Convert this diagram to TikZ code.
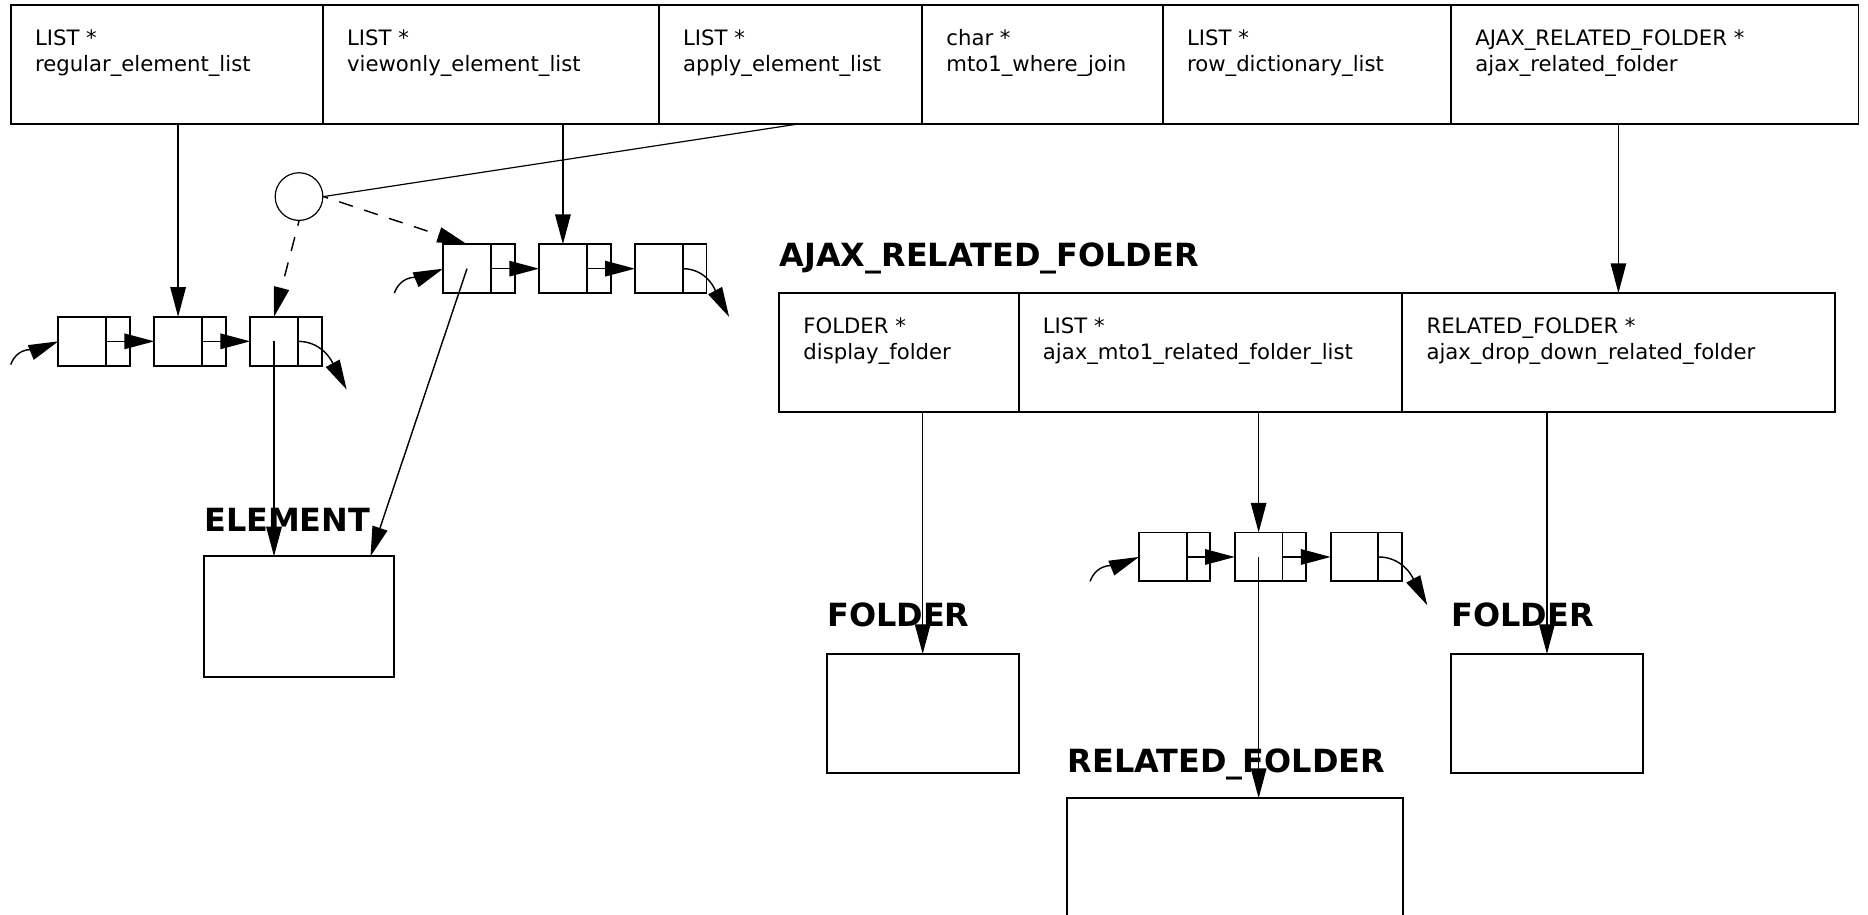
\documentclass[tikz,border=0pt]{standalone}
\usepackage{fontspec}
\setmainfont{DejaVu Sans}
\usepackage{tikz}
\usetikzlibrary{
  positioning, arrows.meta, calc
}
\newcommand{\fieldfont}{\fontsize{8.9}{10.9}\selectfont}
\newcommand{\typefont}{\fontsize{13.4}{16}\selectfont\bfseries}

\begin{document}
\begin{tikzpicture}[
  x=0.5pt, y=-0.5pt,
  field/.style={
    rectangle, draw, line width=0.8pt, minimum width=#1,
    minimum height=50pt, inner sep=0pt, outer sep=0pt
  },
  fieldtext/.style={
    anchor=north west, align=left, font=\fieldfont,
    inner sep=0pt, xshift=10pt, yshift=-10.1pt
  },
  record/.style={
    rectangle, draw, line width=0.8pt, minimum width=#1,
    minimum height=50pt, inner sep=0pt, outer sep=0pt, anchor=north west
  },
  typename/.style={font=\typefont, inner sep=0pt, anchor=base west},
  datapart/.style={
    rectangle, draw, line width=0.8pt, minimum width=20pt,
    minimum height=20.5pt, inner sep=0pt, outer sep=0pt
  },
  nextpart/.style={datapart, minimum width=10pt},
  ptr/.style={line width=0.6pt, -{Triangle[length=12.5pt, width=6.5pt]}},
  dashptr/.style={ptr, dash pattern=on 6pt off 5pt, dash phase=4pt},
  joinmark/.style={circle, draw, line width=0.5pt, minimum size=20pt, inner sep=0pt},
]
\useasboundingbox (0,0) rectangle (1568,768);

% top record
\node[field=131pt, anchor=north west,
  label={[fieldtext]north west:{LIST *\\regular\_element\_list}}] (regular) at (9,4) {};
\node[field=141pt, right=0pt of regular,
  label={[fieldtext]north west:{LIST *\\viewonly\_element\_list}}] (viewonly) {};
\node[field=110.5pt, right=0pt of viewonly,
  label={[fieldtext]north west:{LIST *\\apply\_element\_list}}] (apply) {};
\node[field=101pt, right=0pt of apply,
  label={[fieldtext]north west:{char *\\mto1\_where\_join}}] (wherejoin) {};
\node[field=121pt, right=0pt of wherejoin,
  label={[fieldtext]north west:{LIST *\\row\_dictionary\_list}}] (rowdict) {};
\node[field=171pt, right=0pt of rowdict,
  label={[fieldtext]north west:{AJAX\_RELATED\_FOLDER *\\ajax\_related\_folder}}] (ajaxrel) {};

% AJAX_RELATED_FOLDER record
\node[field=100.5pt, anchor=north west,
  label={[fieldtext]north west:{FOLDER *\\display\_folder}}] (display) at (654,246) {};
\node[field=161pt, right=0pt of display,
  label={[fieldtext]north west:{LIST *\\ajax\_mto1\_related\_folder\_list}}] (mtolist) {};
\node[field=181.5pt, right=0pt of mtolist,
  label={[fieldtext]north west:{RELATED\_FOLDER *\\ajax\_drop\_down\_related\_folder}}] (dropdown) {};
\node[typename] (ajaxtitle) at ([yshift=11pt]display.north west) {AJAX\_RELATED\_FOLDER};

% regular element list
\node[datapart, anchor=north west] (ra1) at (49,266) {};
\node[nextpart, right=0pt of ra1] (rn1) {};
\node[datapart, right=10.25pt of rn1] (ra2) {};
\node[nextpart, right=0pt of ra2] (rn2) {};
\node[datapart, right=10.25pt of rn2] (ra3) {};
\node[nextpart, right=0pt of ra3] (rn3) {};
\coordinate (rin) at (9,306);
\coordinate (rout) at (291,327);

% viewonly element list
\node[datapart, anchor=north west] (va1) at (372,205) {};
\node[nextpart, right=0pt of va1] (vn1) {};
\node[datapart, right=10.25pt of vn1] (va2) {};
\node[nextpart, right=0pt of va2] (vn2) {};
\node[datapart, right=10.25pt of vn2] (va3) {};
\node[nextpart, right=0pt of va3] (vn3) {};
\coordinate (vin) at (331,246);
\coordinate (vout) at (612,266);

% related folder list
\node[datapart, anchor=north west] (ma1) at (956,447) {};
\node[nextpart, right=0pt of ma1] (mn1) {};
\node[datapart, right=10.25pt of mn1] (ma2) {};
\node[nextpart, right=0pt of ma2] (mn2) {};
\node[datapart, right=10.25pt of mn2] (ma3) {};
\node[nextpart, right=0pt of ma3] (mn3) {};
\coordinate (min) at (915,488);
\coordinate (mout) at (1198,508);

% apply reference
\node[joinmark] (applyref) at (251,165) {};

% target records
\node[record=80pt, minimum height=50.5pt] (element) at (171,467) {};
\node[typename] (elementtitle) at ([yshift=10.5pt]element.north west) {ELEMENT};
\node[record=80.5pt] (foldera) at (694,549) {};
\node[typename] (folderatitle) at ([yshift=11.5pt]foldera.north west) {FOLDER};
\node[record=80.5pt] (folderb) at (1218,549) {};
\node[typename] (folderbtitle) at ([yshift=11.5pt]folderb.north west) {FOLDER};
\node[record=141pt] (relfolder) at (896,670) {};
\node[typename] (relfoldertitle) at ([yshift=11pt]relfolder.north west) {RELATED\_FOLDER};

% links
\draw[line width=0.5pt] ([xshift=3.5pt]apply.south) -- (applyref.east);
\draw[dashptr] (applyref.east) -- (va1.north);
\draw[dashptr] (applyref.south) -- (ra3.north);
\draw[ptr] (regular.south -| ra2.north) -- (ra2.north);
\draw[ptr] (viewonly.south -| va2.north) -- (va2.north);
\draw[ptr] (ajaxrel.south -| dropdown.north) -- (dropdown.north);

\draw[ptr] (rin) to[out=70, in=202] (ra1.west);
\draw[ptr] (rn1.west) -- (ra2.west);
\draw[ptr] (rn2.west) -- (ra3.west);
\draw[ptr] (rn3.west) to[out=0, in=118] (rout);

\draw[ptr] (vin) to[out=70, in=202] (va1.west);
\draw[ptr] (vn1.west) -- (va2.west);
\draw[ptr] (vn2.west) -- (va3.west);
\draw[ptr] (vn3.west) to[out=0, in=118] (vout);

\draw[ptr] (min) to[out=70, in=202] (ma1.west);
\draw[ptr] (mn1.west) -- (ma2.west);
\draw[ptr] (mn2.west) -- (ma3.west);
\draw[ptr] (mn3.west) to[out=0, in=118] (mout);

\draw[ptr] (ra3.center) -- (ra3.center |- element.north);
\draw[ptr] (va1.center) -- ([xshift=-10pt]element.north east);
\draw[ptr] (display.south -| foldera.north) -- (foldera.north);
\draw[ptr] (mtolist.south -| ma2.north) -- (ma2.north);
\draw[ptr] (ma2.center) -- (ma2.center |- relfolder.north);
\draw[ptr] (dropdown.south -| folderb.north) -- (folderb.north);

\end{tikzpicture}
\end{document}
